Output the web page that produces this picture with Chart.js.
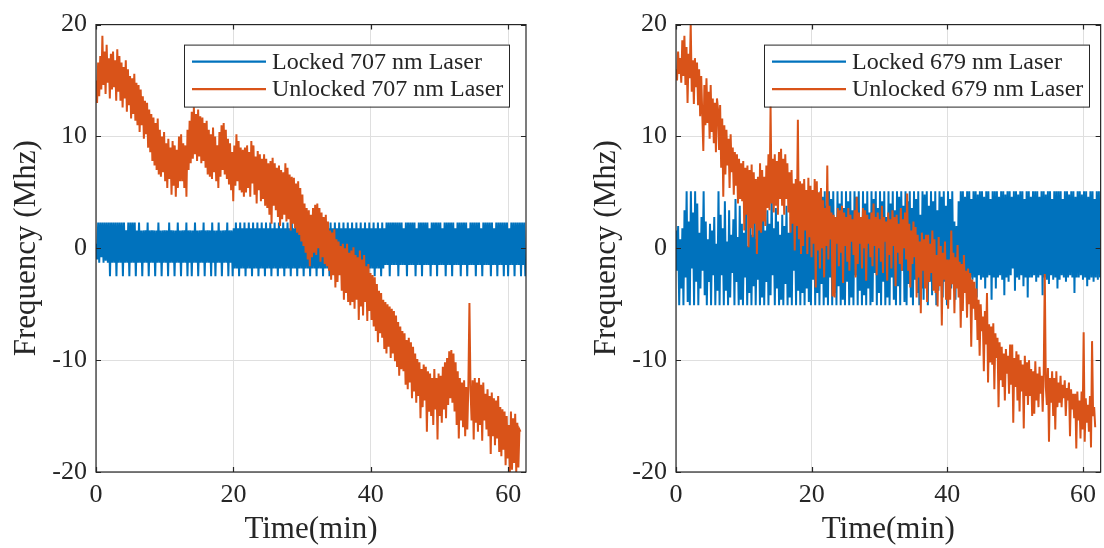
<!DOCTYPE html>
<html>
<head>
<meta charset="utf-8">
<script src="https://cdn.jsdelivr.net/npm/chart.js@4.4.1/dist/chart.umd.min.js"></script>
<style>
  html, body { margin: 0; padding: 0; background: #fff; }
  #wrap { position: relative; width: 1104px; height: 548px; overflow: hidden; }
  canvas { position: absolute; top: 0; }
</style>
</head>
<body>
<div id="wrap">
  <canvas id="chart707" width="552" height="548" style="left:0"></canvas>
  <canvas id="chart679" width="552" height="548" style="left:552px"></canvas>
</div>
<script>
// axis ticks (minutes / MHz)
const timeTicks = [0, 20, 40, 60];
const freqTicks = [-20, -10, 0, 10, 20];
const timeMax = 62.6;

// minutes covered by each recording (samples are evenly spaced)
const lockedSpan = 62.5;
const unlockedSpan = 61.8;

const legend707 = ['Locked 707 nm Laser', 'Unlocked 707 nm Laser'];
const legend679 = ['Locked 679 nm Laser', 'Unlocked 679 nm Laser'];

// frequency offset, MHz (one row = 20 samples)
const locked707 = [
  0.4, -1.0, 2.3, -1.3, 2.3, -0.8, 2.3, -1.3, 2.3, -1.1, 2.3, -1.3, 2.3, -2.5, 2.3, -1.3, 2.3, -1.3, 2.3, -2.5,
  2.3, -1.3, 2.3, -1.3, 2.3, -2.5, 2.3, -1.3, 1.6, -1.3, 2.3, -2.5, 2.3, -1.3, 2.3, -1.3, 2.3, -2.5, 1.6, -1.3,
  2.3, -1.3, 1.6, -2.5, 1.6, -1.3, 1.6, -1.3, 2.3, -2.5, 1.6, -1.3, 1.6, -1.3, 1.6, -2.5, 1.6, -1.3, 2.3, -1.3,
  1.6, -2.5, 1.6, -1.3, 1.6, -1.3, 1.6, -2.5, 2.3, -1.3, 1.6, -1.3, 1.6, -2.5, 1.6, -1.3, 2.3, -1.3, 1.6, -2.5,
  1.6, -1.3, 1.6, -1.3, 2.3, -2.5, 1.6, -1.3, 1.6, -2.5, 1.6, -1.3, 2.3, -1.3, 1.6, -2.5, 1.6, -1.3, 1.6, -1.3,
  2.3, -2.5, 1.6, -1.3, 1.6, -1.3, 1.6, -2.5, 2.3, -1.3, 1.6, -2.5, 1.6, -1.3, 2.3, -1.3, 1.6, -2.5, 1.6, -1.3,
  1.6, -1.3, 2.3, -2.5, 1.6, -1.3, 1.6, -2.5, 1.8, -1.8, 2.3, -1.8, 1.8, -2.5, 2.3, -1.8, 1.8, -1.8, 2.3, -2.5,
  1.8, -1.8, 2.3, -1.8, 1.8, -2.5, 2.3, -1.8, 1.8, -1.8, 2.3, -2.5, 1.8, -1.8, 2.3, -1.8, 1.8, -2.5, 2.3, -1.8,
  1.8, -1.8, 2.3, -2.5, 1.8, -1.8, 2.3, -1.8, 1.8, -2.5, 2.3, -1.8, 1.8, -1.8, 2.3, -2.5, 1.8, -1.8, 2.3, -1.8,
  1.8, -2.5, 2.3, -1.8, 1.8, -1.8, 2.3, -2.5, 1.8, -1.8, 2.3, -1.8, 1.8, -2.5, 2.3, -1.8, 1.8, -1.8, 2.3, -2.5,
  1.8, -1.8, 2.3, -1.8, 1.8, -2.5, 2.3, -1.8, 1.8, -1.8, 2.3, -2.5, 1.8, -1.8, 2.3, -1.8, 1.8, -2.5, 2.3, -1.8,
  1.8, -1.8, 2.3, -2.5, 1.8, -1.8, 2.3, -1.8, 1.8, -2.5, 2.3, -1.8, 1.8, -1.8, 2.3, -2.5, 1.8, -1.8, 2.3, -1.8,
  1.8, -2.5, 2.3, -1.8, 1.8, -1.8, 2.3, -2.5, 1.8, -1.8, 2.3, -1.8, 1.8, -2.5, 2.3, -1.8, 1.8, -1.8, 2.3, -2.5,
  1.8, -1.8, 2.3, -1.8, 1.8, -2.5, 2.3, -1.8, 1.8, -1.5, 2.3, -1.5, 2.3, -2.5, 2.3, -1.5, 2.3, -1.5, 2.3, -1.5,
  2.3, -2.5, 2.3, -1.5, 2.3, -1.5, 1.8, -1.5, 2.3, -2.5, 2.3, -1.5, 2.3, -1.5, 2.3, -1.5, 2.3, -2.5, 1.8, -1.5,
  2.3, -1.5, 2.3, -2.5, 2.3, -1.5, 2.3, -1.5, 2.3, -1.5, 1.8, -2.5, 2.3, -1.5, 2.3, -1.5, 2.3, -2.5, 2.3, -1.5,
  2.3, -1.5, 1.8, -1.5, 2.3, -2.5, 2.3, -1.5, 2.3, -1.5, 2.3, -2.5, 2.3, -1.5, 1.8, -1.5, 2.3, -1.5, 2.3, -2.5,
  2.3, -1.5, 2.3, -1.5, 2.3, -2.5, 1.8, -1.5, 2.3, -1.5, 2.3, -1.5, 2.3, -2.5, 2.3, -1.5, 2.3, -1.5, 1.8, -2.5,
  2.3, -1.5, 2.3, -1.5, 2.3, -1.5, 2.3, -2.5, 2.3, -1.5, 1.8, -1.5, 2.3, -2.5, 2.3, -1.5, 2.3, -1.5, 2.3, -2.5,
  2.3, -1.5, 2.3, -2.5, 1.8, -1.5, 2.3, -1.5, 2.3, -2.5, 2.3, -1.5, 2.3, -1.5, 2.3, -2.5, 2.3, -1.5, 2.3, -2.5
];

const unlocked707 = [
  15.0, 13.0, 16.6, 13.6, 17.2, 14.2, 19.0, 14.6, 17.6, 13.8, 18.2, 14.8, 17.0, 13.4, 17.4, 14.2, 17.6, 14.4, 16.8, 13.2,
  17.8, 14.0, 17.2, 13.2, 16.6, 12.6, 16.2, 13.4, 16.8, 12.2, 16.0, 12.8, 15.4, 11.6, 15.2, 12.0, 15.6, 11.4, 14.8, 11.0,
  14.6, 10.4, 14.2, 11.0, 13.6, 9.8, 13.2, 10.2, 13.0, 9.0, 12.4, 8.6, 12.0, 7.8, 11.7, 7.4, 11.2, 7.0, 11.6, 6.6,
  10.6, 6.4, 10.0, 6.8, 10.4, 6.0, 9.4, 5.4, 9.8, 6.2, 9.0, 4.8, 9.6, 5.6, 9.2, 4.6, 8.8, 5.4, 10.0, 6.0,
  10.2, 6.0, 9.4, 5.4, 9.2, 4.6, 10.6, 7.0, 11.4, 7.6, 12.2, 8.0, 12.6, 8.4, 12.0, 7.8, 12.4, 8.2, 11.8, 7.6,
  11.7, 7.8, 11.2, 7.2, 11.4, 6.6, 10.6, 6.4, 10.2, 6.2, 10.8, 6.8, 10.0, 6.0, 9.2, 5.4, 10.4, 6.4, 11.0, 7.0,
  11.2, 6.6, 10.6, 6.2, 9.8, 5.7, 9.4, 5.2, 8.6, 4.2, 9.2, 5.6, 10.2, 6.0, 9.6, 5.2, 9.0, 5.0, 8.8, 4.6,
  9.0, 5.0, 9.2, 5.4, 8.6, 4.6, 9.6, 5.8, 9.2, 4.8, 8.2, 4.0, 8.7, 5.2, 8.4, 4.2, 8.0, 4.4, 8.4, 3.8,
  8.0, 3.6, 7.6, 3.0, 7.8, 2.2, 8.1, 3.8, 7.6, 3.4, 7.2, 2.8, 7.4, 2.0, 7.0, 2.6, 6.8, 3.0, 7.6, 2.4,
  7.2, 2.6, 6.6, 1.6, 6.4, 2.2, 6.3, 1.8, 5.8, 1.4, 6.0, 1.2, 5.4, 0.6, 4.8, 0.2, 4.0, -0.4, 3.6, -1.0,
  3.4, -1.6, 3.0, -0.8, 3.6, -0.4, 3.9, -0.6, 4.0, 0.0, 3.6, -1.2, 3.2, -0.8, 2.8, -1.4, 3.0, -1.6, 2.4, -2.0,
  1.6, -2.8, 1.4, -2.4, 1.7, -3.5, 0.8, -3.0, 0.6, -2.4, 0.2, -3.8, 0.4, -4.6, 0.0, -4.0, 0.4, -4.8, -0.4, -5.1,
  -0.2, -4.8, 0.1, -5.4, -0.6, -4.6, -0.8, -6.4, -0.2, -5.2, -1.0, -6.0, -0.6, -4.8, -1.6, -6.5, -1.4, -5.6, -2.2, -6.4,
  -2.4, -7.0, -2.6, -7.4, -3.2, -8.4, -3.8, -7.6, -4.0, -8.0, -4.6, -9.0, -4.8, -9.4, -5.0, -8.8, -5.2, -9.8, -5.4, -9.4,
  -5.6, -10.1, -6.0, -10.6, -6.6, -11.4, -7.0, -10.8, -7.4, -11.0, -7.6, -12.2, -8.2, -12.6, -8.0, -12.0, -8.4, -13.4, -8.8, -12.8,
  -9.4, -13.8, -9.9, -13.2, -10.2, -15.2, -10.8, -14.2, -10.4, -13.6, -10.6, -16.4, -11.0, -14.6, -11.2, -15.0, -11.6, -15.8, -10.8, -14.4,
  -11.6, -17.1, -11.2, -15.0, -11.4, -15.6, -10.6, -14.4, -10.2, -15.2, -9.8, -14.0, -9.2, -13.4, -9.1, -13.8, -9.4, -14.6, -10.2, -15.8,
  -11.0, -17.0, -11.6, -15.4, -12.0, -16.0, -11.8, -16.8, -12.4, -16.2, -12.2, -4.9, -12.6, -15.4, -11.8, -17.1, -11.6, -15.6, -12.0, -16.4,
  -11.6, -15.8, -12.2, -17.2, -12.0, -15.4, -13.0, -16.2, -12.6, -16.8, -13.2, -18.4, -12.9, -16.8, -13.4, -17.6, -13.6, -17.0, -13.2, -18.2,
  -14.2, -18.6, -14.4, -18.0, -14.6, -19.4, -15.0, -18.8, -15.8, -20.0, -14.6, -19.8, -15.2, -19.2, -14.8, -20.0, -15.6, -19.6, -16.2, -16.4
];

const locked679 = [
  1.6, -2.0, 2.0, -5.1, 0.8, -3.6, 1.8, -5.1, 3.4, -2.6, 5.1, -4.8, 2.4, -5.1, 5.1, -1.8, 3.2, -5.1, 5.1, -3.0,
  4.0, -5.1, 1.4, -3.6, 2.8, -2.0, 5.1, -4.2, 2.4, -5.1, 0.8, -3.0, 2.2, -5.1, 1.6, -2.4, 2.8, -5.1, 0.4, -3.8,
  5.1, -5.1, 3.0, -2.4, 1.8, -5.1, 4.2, -3.8, 0.6, -5.1, 3.4, -4.4, 1.2, -2.2, 2.6, -5.1, 4.4, -3.0, 1.0, -5.1,
  3.8, -4.6, 2.2, -5.1, 1.4, -2.6, 3.6, -5.1, 0.2, -4.0, 2.4, -5.1, 1.2, -3.4, 3.2, -5.1, 0.8, -2.8, 2.0, -5.1,
  2.6, -4.4, 4.0, -5.1, 1.6, -3.0, 3.4, -5.1, 2.2, -4.2, 5.1, -2.4, 1.8, -5.1, 3.6, -3.6, 2.4, -5.1, 1.2, -4.6,
  3.0, -5.1, 2.0, -3.2, 3.8, -5.1, 1.4, -4.4, 2.8, -5.1, 3.6, -2.0, 2.2, -5.1, 4.4, -3.8, 1.8, -5.1, 3.2, -4.0,
  5.1, -5.1, 2.6, -3.6, 5.1, -4.8, 3.4, -5.1, 5.1, -2.8, 4.2, -5.1, 5.1, -4.0, 3.0, -5.1, 5.1, -3.2, 4.6, -5.1,
  5.1, -4.4, 3.8, -5.1, 5.1, -2.6, 4.4, -5.1, 5.1, -4.0, 2.8, -5.1, 5.1, -3.4, 4.0, -5.1, 5.1, -4.6, 3.6, -5.1,
  5.1, -3.0, 4.2, -5.1, 5.1, -4.4, 3.4, -5.1, 5.1, -2.4, 4.6, -5.1, 5.1, -3.8, 2.6, -5.1, 5.1, -4.2, 4.0, -5.1,
  5.1, -3.6, 3.2, -5.1, 5.1, -4.8, 4.4, -2.2, 5.1, -5.1, 3.6, -4.0, 5.1, -5.1, 4.2, -3.0, 5.1, -5.1, 2.8, -4.4,
  5.1, -5.1, 4.0, -2.6, 5.1, -4.6, 3.4, -5.1, 5.1, -3.4, 4.6, -5.1, 5.1, -2.0, 3.8, -4.8, 5.1, -5.1, 4.2, -3.2,
  5.1, -4.4, 3.6, -5.1, 5.1, -2.8, 4.4, -4.0, 5.1, -5.1, 3.0, -3.6, 5.1, -4.6, 4.8, -2.2, 5.1, -5.1, 3.8, -3.0,
  5.1, -4.2, 4.2, -2.4, 5.1, -5.1, 3.4, -3.8, 5.1, -2.0, 4.6, -4.4, 5.1, -3.0, 3.8, -5.1, 5.1, -2.6, 4.4, -3.6,
  5.1, -2.6, 2.4, -4.6, 2.0, -2.8, 4.2, -3.4, 5.1, -2.6, 5.1, -4.0, 4.6, -2.4, 5.1, -3.0, 5.1, -2.6, 4.4, -2.8,
  5.1, -2.6, 5.1, -4.4, 4.8, -2.4, 5.1, -2.8, 5.1, -2.6, 4.6, -3.6, 5.1, -2.6, 5.1, -2.4, 4.4, -4.6, 5.1, -2.6,
  5.1, -3.6, 5.1, -2.6, 4.6, -2.4, 5.1, -2.8, 5.1, -4.2, 4.8, -2.6, 5.1, -3.0, 5.1, -2.4, 4.6, -1.8, 5.1, -3.8,
  5.1, -2.6, 4.8, -2.8, 5.1, -2.4, 5.1, -3.4, 4.4, -2.6, 5.1, -4.4, 5.1, -2.6, 4.6, -2.6, 5.1, -2.4, 5.1, -3.0,
  5.1, -2.6, 4.6, -2.4, 5.1, -4.2, 5.1, -2.6, 4.8, -2.8, 5.1, -3.2, 5.1, -2.4, 4.4, -2.8, 5.1, -2.6, 5.1, -3.6,
  5.1, -2.8, 5.1, -2.4, 4.4, -2.6, 5.1, -3.0, 5.1, -2.6, 4.8, -2.4, 5.1, -2.6, 5.1, -4.0, 4.6, -2.6, 5.1, -2.6,
  5.1, -2.4, 4.8, -2.8, 5.1, -2.6, 5.1, -3.4, 4.6, -2.8, 5.1, -2.6, 5.1, -3.0, 4.4, -2.6, 5.1, -2.8, 5.1, -2.6
];

const unlocked679 = [
  16.0, 15.0, 17.6, 15.6, 17.0, 14.8, 18.6, 15.4, 19.0, 14.6, 18.0, 13.0, 17.4, 15.2, 20.1, 14.0, 16.8, 12.9, 17.0, 14.4,
  16.6, 12.8, 16.0, 11.8, 15.4, 12.0, 8.7, 14.6, 11.0, 15.2, 11.2, 14.0, 9.8, 14.6, 10.4, 13.4, 9.4, 13.0, 8.6, 13.4,
  12.4, 8.8, 12.8, 7.2, 11.6, 4.6, 11.0, 6.6, 10.6, 7.4, 9.8, 5.4, 10.2, 6.8, 9.0, 4.8, 8.6, 5.6, 8.4, 4.0,
  8.0, 4.4, 7.6, 4.2, 7.8, 1.6, 7.2, 3.0, 7.4, 0.1, 7.0, 1.8, 7.5, 1.0, 6.8, 2.2, 6.2, -0.5, 6.4, 1.6,
  7.6, 1.4, 7.0, 2.4, 6.4, 2.0, 7.4, 3.6, 8.4, 3.4, 12.8, 4.0, 8.0, 3.2, 8.4, 3.8, 7.8, 3.0, 8.6, 4.4,
  8.9, 3.8, 8.0, 3.0, 8.4, 4.4, 7.6, 3.2, 6.8, 1.4, 7.0, 2.2, 5.8, -0.2, 6.2, 2.0, 11.5, 0.8, 6.0, -0.5,
  5.8, 0.2, 6.2, 1.6, 5.2, -0.5, 6.3, 1.0, 5.6, -0.8, 5.2, 0.4, 6.2, -3.5, 6.0, -0.2, 5.0, -1.8, 5.4, 0.0,
  4.3, -2.6, 3.6, 0.2, 7.4, -1.0, 3.8, 0.8, 3.2, -4.3, 3.0, -4.4, 2.8, 0.4, 3.6, -1.6, 3.4, -0.4, 3.8, -3.1,
  3.2, 0.2, 2.8, -1.2, 3.6, -2.0, 3.0, 0.6, 2.6, -0.6, 3.4, -2.6, 4.6, -1.4, 3.2, 0.4, 2.8, -1.8, 3.6, 0.0,
  3.4, -2.9, 3.0, 0.4, 2.6, -0.8, 3.2, -1.6, 4.0, 0.2, 2.8, -2.4, 3.2, 0.0, 2.6, -1.2, 3.8, -2.2, 2.8, 0.6,
  2.4, -2.9, 3.2, -0.6, 2.6, -1.8, 3.4, 0.2, 2.8, -3.4, 3.0, -0.4, 2.2, -1.4, 3.6, -2.0, 2.6, 0.0, 3.2, -1.0,
  4.9, -2.0, 2.2, -3.5, 1.6, -1.4, 2.4, -0.8, 1.9, -4.4, 1.2, -2.6, 0.6, -5.8, 1.4, -2.0, 0.8, -3.6, 1.2, -4.8,
  1.2, -3.0, 0.4, -2.2, 1.6, -3.8, 0.8, -4.0, -0.6, -5.2, 1.0, -3.4, 0.2, -6.9, -0.4, -2.8, 0.6, -4.6, -1.0, -5.4,
  -1.0, -4.6, 1.6, -3.2, -0.4, -5.8, -0.8, -3.6, 0.3, -4.4, -1.2, -7.1, -1.4, -5.6, -0.6, -4.0, -2.0, -6.2, -1.8, -5.0,
  -2.2, -8.8, -2.8, -5.4, -3.0, -6.4, -3.6, -8.2, -4.6, -9.6, -5.0, -7.4, -6.1, -11.0, -5.6, -8.6, -4.0, -12.0, -6.8, -10.2,
  -7.0, -10.4, -6.7, -12.6, -7.6, -9.8, -8.0, -14.2, -8.4, -11.8, -8.8, -12.4, -9.4, -13.6, -9.0, -11.2, -9.6, -13.0, -8.6, -12.2,
  -8.6, -15.6, -9.8, -12.4, -9.2, -13.6, -9.5, -14.6, -10.0, -12.8, -10.4, -16.1, -9.6, -13.2, -10.2, -14.0, -10.0, -13.2, -10.8, -15.0,
  -11.0, -14.8, -10.1, -13.6, -11.2, -14.2, -10.6, -13.0, -11.4, -14.6, -11.2, -2.3, -12.4, -14.0, -10.7, -17.3, -11.6, -13.8, -11.0, -15.0,
  -11.6, -16.2, -11.0, -14.2, -12.0, -13.8, -11.4, -14.2, -12.2, -13.4, -11.8, -15.0, -12.5, -13.6, -12.0, -16.8, -12.6, -14.4, -13.0, -15.2,
  -13.0, -17.9, -12.8, -15.4, -13.6, -17.0, -12.8, -16.2, -7.5, -17.3, -13.4, -15.6, -14.0, -16.4, -13.2, -17.8, -8.3, -15.0, -14.2, -16.0
];

const ink = '#262626';
const gridColor = '#dfdfdf';
const serif = "'Liberation Serif', 'DejaVu Serif', serif";

function toPoints(values, span) {
  return values.map((v, i) => ({ x: i * span / (values.length - 1), y: v }));
}

// axes box with inward tick marks on all four sides
const framePlugin = {
  id: 'frame',
  afterDatasetsDraw(chart) {
    const { ctx, chartArea: a, scales: { x, y } } = chart;
    ctx.save();
    ctx.strokeStyle = ink;
    ctx.lineWidth = 1.2;
    ctx.beginPath();
    x.ticks.forEach(t => {
      const px = Math.round(x.getPixelForValue(t.value)) + 0.5;
      ctx.moveTo(px, a.bottom); ctx.lineTo(px, a.bottom - 5);
      ctx.moveTo(px, a.top); ctx.lineTo(px, a.top + 5);
    });
    y.ticks.forEach(t => {
      const py = Math.round(y.getPixelForValue(t.value)) + 0.5;
      ctx.moveTo(a.left, py); ctx.lineTo(a.left + 5, py);
      ctx.moveTo(a.right, py); ctx.lineTo(a.right - 5, py);
    });
    ctx.stroke();
    ctx.strokeRect(a.left, a.top, a.right - a.left, a.bottom - a.top);
    ctx.restore();
  }
};

// boxed legend in the upper part of the plot
const boxLegend = {
  id: 'boxLegend',
  afterDraw(chart) {
    const { ctx, chartArea: a } = chart;
    const bx = a.left + 88, by = a.top + 20, bw = 325, bh = 62;
    ctx.save();
    ctx.fillStyle = '#fff';
    ctx.fillRect(bx, by, bw, bh);
    ctx.strokeStyle = ink;
    ctx.lineWidth = 1;
    ctx.strokeRect(bx + 0.5, by + 0.5, bw, bh);
    ctx.font = "24px " + serif;
    ctx.textBaseline = 'middle';
    chart.data.datasets.forEach((ds, i) => {
      const ry = by + 17 + i * 27.6;
      ctx.strokeStyle = ds.borderColor;
      ctx.lineWidth = 2.2;
      ctx.beginPath();
      ctx.moveTo(bx + 8, ry);
      ctx.lineTo(bx + 82, ry);
      ctx.stroke();
      ctx.fillStyle = ink;
      ctx.fillText(ds.label, bx + 88, ry + 1);
    });
    ctx.restore();
  }
};

function buildPanel(id, locked, unlocked, names, padLeft, padRight) {
  return new Chart(document.getElementById(id), {
    type: 'line',
    data: {
      datasets: [
        { label: names[0], data: toPoints(locked, lockedSpan), borderColor: '#0072BD', order: 2 },
        { label: names[1], data: toPoints(unlocked, unlockedSpan), borderColor: '#D95319', order: 1 }
      ]
    },
    options: {
      responsive: false,
      animation: false,
      devicePixelRatio: 1,
      parsing: false,
      layout: { padding: { left: padLeft, right: padRight, top: 24, bottom: 0 } },
      elements: {
        point: { radius: 0 },
        line: { borderWidth: 2, tension: 0 }
      },
      plugins: { legend: { display: false }, tooltip: { enabled: false } },
      scales: {
        x: {
          type: 'linear',
          min: 0,
          max: timeMax,
          afterBuildTicks: s => { s.ticks = timeTicks.map(v => ({ value: v })); },
          afterFit: s => { s.height = 76; },
          ticks: { font: { family: serif, size: 26 }, color: ink, padding: 8 },
          grid: { color: gridColor, drawTicks: false },
          border: { display: false },
          title: { display: true, text: 'Time(min)', font: { family: serif, size: 31 }, color: ink, padding: 0 }
        },
        y: {
          type: 'linear',
          min: -20,
          max: 20,
          afterBuildTicks: s => { s.ticks = freqTicks.map(v => ({ value: v })); },
          afterFit: s => { s.width = 96; },
          ticks: { font: { family: serif, size: 26 }, color: ink, padding: 9 },
          grid: { color: gridColor, drawTicks: false },
          border: { display: false },
          title: { display: true, text: 'Frequency (Mhz)', font: { family: serif, size: 31 }, color: ink, padding: { top: 8, bottom: 0 } }
        }
      }
    },
    plugins: [framePlugin, boxLegend]
  });
}

buildPanel('chart707', locked707, unlocked707, legend707, 0, 26);
buildPanel('chart679', locked679, unlocked679, legend679, 28, 0);
</script>
</body>
</html>
